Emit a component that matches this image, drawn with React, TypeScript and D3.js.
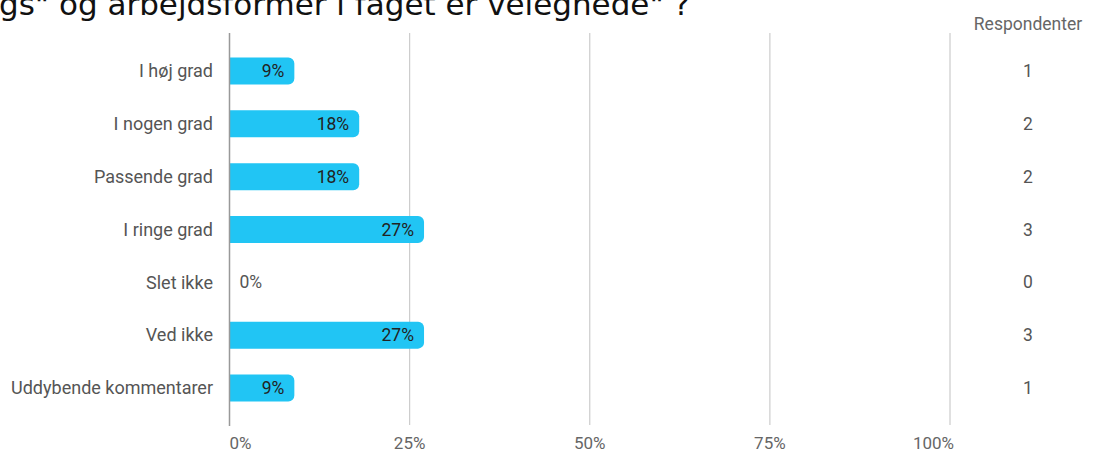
import React from "react";
import * as d3 from "d3";

const categories = [
  "I høj grad",
  "I nogen grad",
  "Passende grad",
  "I ringe grad",
  "Slet ikke",
  "Ved ikke",
  "Uddybende kommentarer",
];
const percents = [9, 18, 18, 27, 0, 27, 9];
const respondents = [1, 2, 2, 3, 0, 3, 1];
const xTicks = [0, 25, 50, 75, 100];
const titleText = "gs\" og arbejdsformer i faget er velegnede\" ?";

const W = 1098;
const H = 451;

export default function App() {
  const x = d3.scaleLinear().domain([0, 100]).range([229.5, 950]);
  const y = d3
    .scaleBand<string>()
    .domain(categories)
    .range([44.6, 414.4])
    .paddingInner(0.49)
    .paddingOuter(0.245);
  const bh = y.bandwidth();
  const font = "Roboto, 'Noto Sans', sans-serif";

  const barPath = (x0: number, x1: number, y0: number, h: number, r: number) => {
    const rr = Math.min(r, x1 - x0, h / 2);
    const p = d3.path();
    p.moveTo(x0, y0);
    p.lineTo(x1 - rr, y0);
    p.arcTo(x1, y0, x1, y0 + rr, rr);
    p.lineTo(x1, y0 + h - rr);
    p.arcTo(x1, y0 + h, x1 - rr, y0 + h, rr);
    p.lineTo(x0, y0 + h);
    p.closePath();
    return p.toString();
  };

  return (
    <svg
      width={W}
      height={H}
      style={{ position: "absolute", left: 0, top: 0, background: "#fff" }}
      fontFamily={font}
    >
      <text
        x={-1}
        y={15}
        fontFamily="'DejaVu Sans', Verdana, sans-serif"
        fontSize={31}
        fill="#111"
      >
        {titleText}
      </text>

      {xTicks.map((t) =>
        t === 0 ? null : (
          <line
            key={t}
            x1={x(t)}
            x2={x(t)}
            y1={33}
            y2={425}
            stroke="#cccccc"
            strokeWidth={1.2}
          />
        )
      )}

      {categories.map((c, i) => {
        const yc = (y(c) as number) + bh / 2;
        const v = percents[i];
        return (
          <g key={c}>
            <text
              x={213}
              y={yc}
              dy="0.35em"
              textAnchor="end"
              fontSize={18}
              fill="#555"
            >
              {c}
            </text>
            {v > 0 ? (
              <>
                <path
                  d={barPath(x(0), x(v), y(c) as number, bh, 6)}
                  fill="#21c5f4"
                />
                <text
                  x={x(v) - 10}
                  y={yc}
                  dy="0.35em"
                  textAnchor="end"
                  fontSize={17.5}
                  fill="#222"
                >
                  {v}%
                </text>
              </>
            ) : (
              <text
                x={x(0) + 10}
                y={yc}
                dy="0.35em"
                textAnchor="start"
                fontSize={17.5}
                fill="#555"
              >
                {v}%
              </text>
            )}
            <text
              x={1028}
              y={yc}
              dy="0.35em"
              textAnchor="middle"
              fontSize={17.5}
              fill="#555"
            >
              {respondents[i]}
            </text>
          </g>
        );
      })}

      <line x1={x(0)} x2={x(0)} y1={33} y2={426} stroke="#999" strokeWidth={1.5} />

      {xTicks.map((t, i) => (
        <text
          key={t}
          x={i === 0 ? x(t) : i === xTicks.length - 1 ? x(t) + 4 : x(t)}
          y={443}
          dy="0.35em"
          textAnchor={i === 0 ? "start" : i === xTicks.length - 1 ? "end" : "middle"}
          fontSize={17}
          fill="#666"
        >
          {t}%
        </text>
      ))}

      <text x={1028} y={24} dy="0.35em" textAnchor="middle" fontSize={17.5} fill="#666">
        Respondenter
      </text>
    </svg>
  );
}
